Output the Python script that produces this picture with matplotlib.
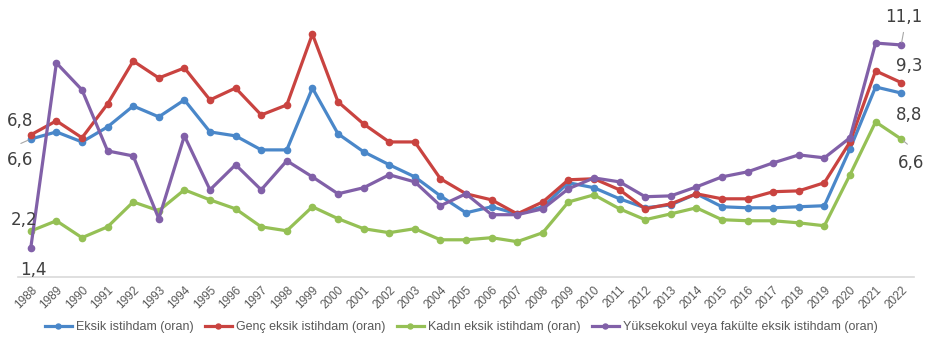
import matplotlib
matplotlib.use("Agg")
import matplotlib.pyplot as plt

years = list(range(1988, 2023))
year_labels = [str(y) for y in years]

eksik = [6.6, 6.94, 6.46, 7.18, 8.18, 7.66, 8.47, 6.94, 6.75, 6.08, 6.08, 9.04,
         6.85, 5.99, 5.37, 4.79, 3.88, 3.07, 3.36, 3.02, 3.36, 4.51, 4.27, 3.74,
         3.31, 3.45, 3.98, 3.36, 3.31, 3.31, 3.36, 3.41, 6.13, 9.09, 8.8]
genc = [6.8, 7.47, 6.66, 8.28, 10.33, 9.52, 10.0, 8.47, 9.04, 7.75, 8.23, 11.62,
        8.38, 7.32, 6.46, 6.46, 4.70, 3.98, 3.69, 3.02, 3.59, 4.65, 4.70, 4.17,
        3.26, 3.50, 3.98, 3.74, 3.74, 4.08, 4.12, 4.51, 6.46, 9.86, 9.3]
kadin = [2.2, 2.69, 1.88, 2.40, 3.59, 3.17, 4.17, 3.69, 3.26, 2.40, 2.21, 3.36,
         2.79, 2.31, 2.12, 2.31, 1.78, 1.78, 1.88, 1.69, 2.12, 3.59, 3.93, 3.26,
         2.74, 3.02, 3.31, 2.74, 2.69, 2.69, 2.59, 2.45, 4.89, 7.42, 6.6]
yuksek = [1.4, 10.24, 8.95, 6.03, 5.79, 2.79, 6.75, 4.17, 5.37, 4.17, 5.56, 4.79,
          3.98, 4.27, 4.89, 4.55, 3.41, 3.98, 2.98, 2.98, 3.26, 4.22, 4.74, 4.55,
          3.84, 3.88, 4.31, 4.79, 5.03, 5.46, 5.84, 5.70, 6.66, 11.19, 11.1]

series_names = ["Eksik istihdam (oran)", "Genç eksik istihdam (oran)",
                "Kadın eksik istihdam (oran)",
                "Yüksekokul veya fakülte eksik istihdam (oran)"]
colors = ["#4A87C9", "#C94340", "#95C055", "#8160A8"]

plt.rcParams['font.family'] = ['Liberation Sans', 'DejaVu Sans']

fig = plt.figure(figsize=(9.27, 3.38), dpi=100)
ax = fig.add_axes([18/927, 61/338, 896/927, 277/338])

x = list(range(len(years)))
data = [eksik, genc, kadin, yuksek]
for vals, c, n in zip(data, colors, series_names):
    ax.plot(x, vals, color=c, lw=2.3, marker='o', ms=4.5, label=n,
            solid_joinstyle='round', zorder=3)

ax.set_xlim(-0.5, len(years) - 0.5)
ax.set_ylim(0, 13.25)
ax.set_yticks([])
for s in ['top', 'right', 'left']:
    ax.spines[s].set_visible(False)
ax.spines['bottom'].set_color('#D9D9D9')
ax.spines['bottom'].set_linewidth(1.2)
ax.set_xticks(x)
ax.set_xticklabels(year_labels, rotation=45, ha='right', rotation_mode='anchor',
                   fontsize=8.5, color='#595959')
ax.tick_params(axis='x', length=0, pad=5)

lab_col = '#404040'
fs = 12
def lab(i, vals, txt, dx, dy):
    ax.annotate(txt, (x[i], vals[i]), xytext=(dx, dy), textcoords='offset points',
                ha='center', va='center', fontsize=fs, color=lab_col,
                family='DejaVu Sans', zorder=4)

lab(0, genc, "6,8", -8, 10)
lab(0, eksik, "6,6", -8, -15)
lab(0, kadin, "2,2", -5, 8)
lab(0, yuksek, "1,4", 2, -16)
lab(-1, yuksek, "11,1", 2, 20)
lab(-1, genc, "9,3", 6, 12)
lab(-1, eksik, "8,8", 6, -16)
lab(-1, kadin, "6,6", 7, -17)

# leader lines
ax.annotate("", (x[0], eksik[0]), xytext=(-9, -4), textcoords='offset points',
            arrowprops=dict(arrowstyle='-', color='#A6A6A6', lw=0.8))
ax.annotate("", (x[-1], yuksek[-1]), xytext=(2, 11), textcoords='offset points',
            arrowprops=dict(arrowstyle='-', color='#A6A6A6', lw=0.8))
ax.annotate("", (x[-1], kadin[-1]), xytext=(6, -5), textcoords='offset points',
            arrowprops=dict(arrowstyle='-', color='#A6A6A6', lw=0.8))

leg = fig.legend(loc='center', bbox_to_anchor=(461/927, 1 - 327/338), ncol=4,
                 frameon=False, fontsize=9, handlelength=2.2, columnspacing=0.9,
                 handletextpad=0.3, labelcolor='#595959', markerscale=0.8)

fig.savefig("out.png", dpi=100)
